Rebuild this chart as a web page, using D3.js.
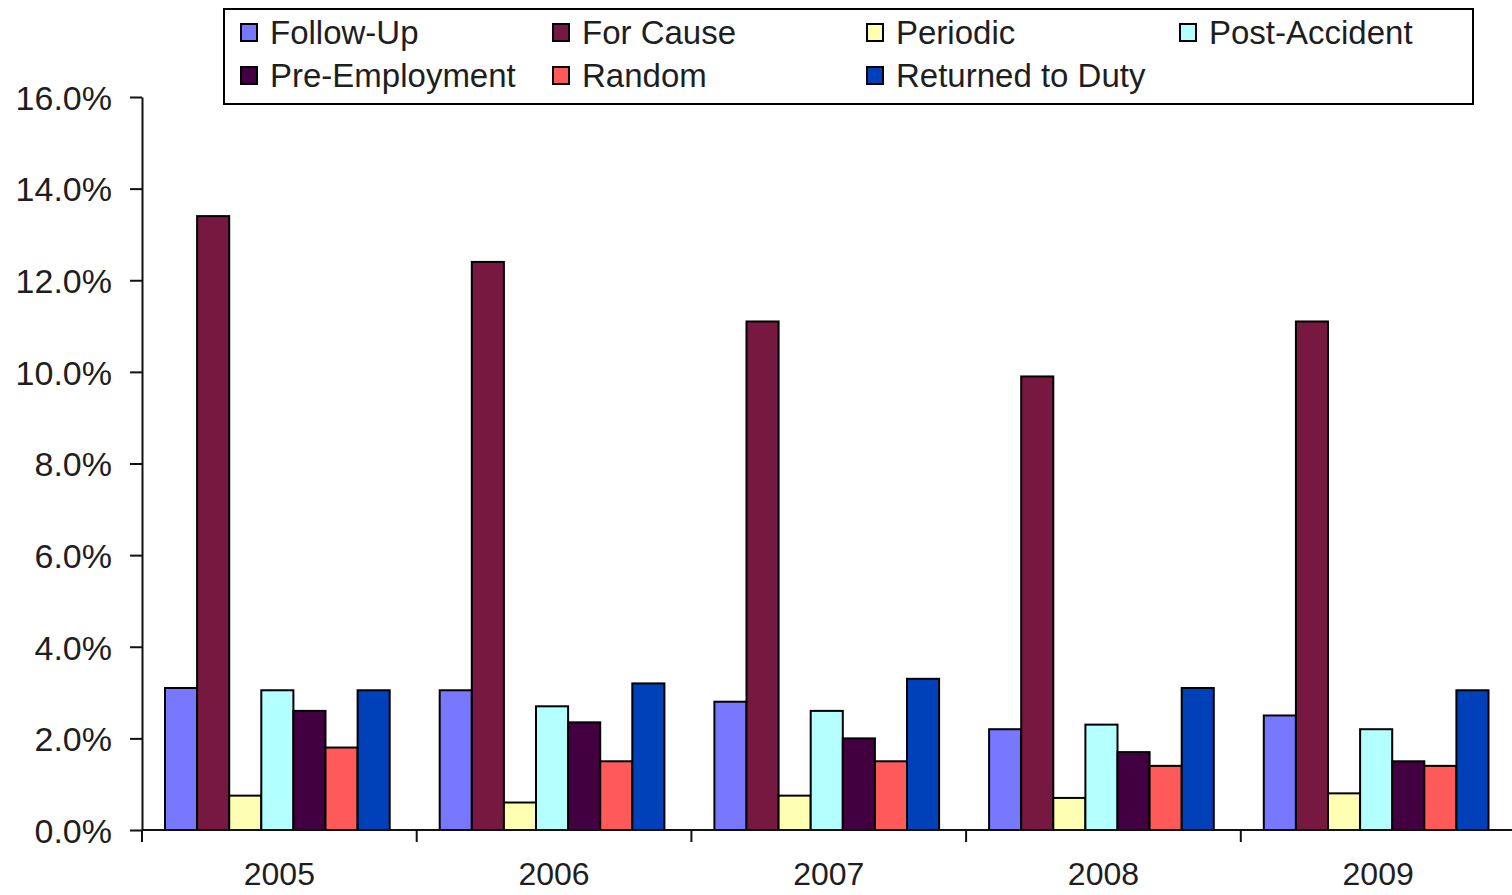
<!DOCTYPE html>
<html>
<head>
<meta charset="utf-8">
<script src="https://cdn.jsdelivr.net/npm/d3@7"></script>
<style>
  body { margin: 0; background: #fff; }
  text { font-family: "Liberation Sans", Arial, sans-serif; fill: #1e1e1e; }
</style>
</head>
<body>
<svg></svg>
<script>
// SVG
var width = 1512;
var height = 895;

// Data (percent)
var years = ["2005", "2006", "2007", "2008", "2009"];
var series = ["Follow-Up", "For Cause", "Periodic", "Post-Accident", "Pre-Employment", "Random", "Returned to Duty"];
var colors = ["#7878ff", "#771840", "#ffffb4", "#b4ffff", "#420040", "#ff5a5a", "#0040b8"];
var followUp      = [3.1, 3.05, 2.8, 2.2, 2.5];
var forCause      = [13.4, 12.4, 11.1, 9.9, 11.1];
var periodic      = [0.75, 0.6, 0.75, 0.7, 0.8];
var postAccident  = [3.05, 2.7, 2.6, 2.3, 2.2];
var preEmployment = [2.6, 2.35, 2.0, 1.7, 1.5];
var random        = [1.8, 1.5, 1.5, 1.4, 1.4];
var returnedDuty  = [3.05, 3.2, 3.3, 3.1, 3.05];
var values = [followUp, forCause, periodic, postAccident, preEmployment, random, returnedDuty];
var yTicks = [0, 2, 4, 6, 8, 10, 12, 14, 16];

var svg = d3.select("svg")
    .attr("width", width)
    .attr("height", height);

// Scales
var x0 = d3.scaleBand()
    .domain(years)
    .range([142, 1515.5]);

var x1 = d3.scaleBand()
    .domain(series)
    .range([23, x0.bandwidth() - 27]);

var y = d3.scaleLinear()
    .domain([0, 16])
    .range([830, 97]);

// Y axis
var yAxis = d3.axisLeft(y)
    .tickValues(yTicks)
    .tickSize(12)
    .tickPadding(18)
    .tickSizeOuter(0)
    .tickFormat(d => d3.format(".1f")(d) + "%");

var gy = svg.append("g")
    .attr("transform", "translate(142,0)")
    .call(yAxis);
gy.select(".domain").attr("stroke", "#111").attr("stroke-width", 2);
gy.selectAll(".tick line").attr("stroke", "#111").attr("stroke-width", 2);
gy.selectAll(".tick text")
    .attr("font-size", 34)
    .attr("fill", "#1e1e1e")
    .attr("dy", "0.36em");

// Bars
var groups = svg.append("g")
    .selectAll("g")
    .data(years)
    .join("g")
    .attr("transform", d => "translate(" + x0(d) + ",0)");

groups.selectAll("rect")
    .data((d, i) => series.map((s, j) => ({ s: s, v: values[j][i], c: colors[j] })))
    .join("rect")
    .attr("x", d => x1(d.s))
    .attr("width", x1.bandwidth())
    .attr("y", d => y(d.v))
    .attr("height", d => y(0) - y(d.v))
    .attr("fill", d => d.c)
    .attr("stroke", "#000")
    .attr("stroke-width", 2);

// X axis (ticks at category boundaries)
var gx = svg.append("g")
    .attr("transform", "translate(0,830)");
gx.append("line")
    .attr("x1", 142).attr("x2", width)
    .attr("stroke", "#111").attr("stroke-width", 2);
gx.selectAll(".bnd")
    .data(years.concat(["end"]))
    .join("line")
    .attr("class", "bnd")
    .attr("x1", (d, i) => 142 + i * x0.step())
    .attr("x2", (d, i) => 142 + i * x0.step())
    .attr("y1", 0).attr("y2", 12)
    .attr("stroke", "#111").attr("stroke-width", 2);
gx.selectAll(".yl")
    .data(years)
    .join("text")
    .attr("class", "yl")
    .attr("x", d => x0(d) + x0.bandwidth() / 2)
    .attr("y", 55)
    .attr("text-anchor", "middle")
    .attr("font-size", 32)
    .text(d => d);

// Legend
var legend = svg.append("g");
legend.append("rect")
    .attr("x", 224).attr("y", 9)
    .attr("width", 1249).attr("height", 95)
    .attr("fill", "#fff")
    .attr("stroke", "#000")
    .attr("stroke-width", 2);

var colX = [241, 553, 867, 1180];
var rowY = [24, 67];
var items = legend.selectAll(".item")
    .data(series)
    .join("g")
    .attr("class", "item")
    .attr("transform", (d, i) => "translate(" + colX[i % 4] + "," + rowY[Math.floor(i / 4)] + ")");
items.append("rect")
    .attr("width", 16).attr("height", 17)
    .attr("fill", (d, i) => colors[i])
    .attr("stroke", "#000")
    .attr("stroke-width", 2);
items.append("text")
    .attr("x", 29)
    .attr("y", 20)
    .attr("font-size", 33)
    .text(d => d);
</script>
</body>
</html>
